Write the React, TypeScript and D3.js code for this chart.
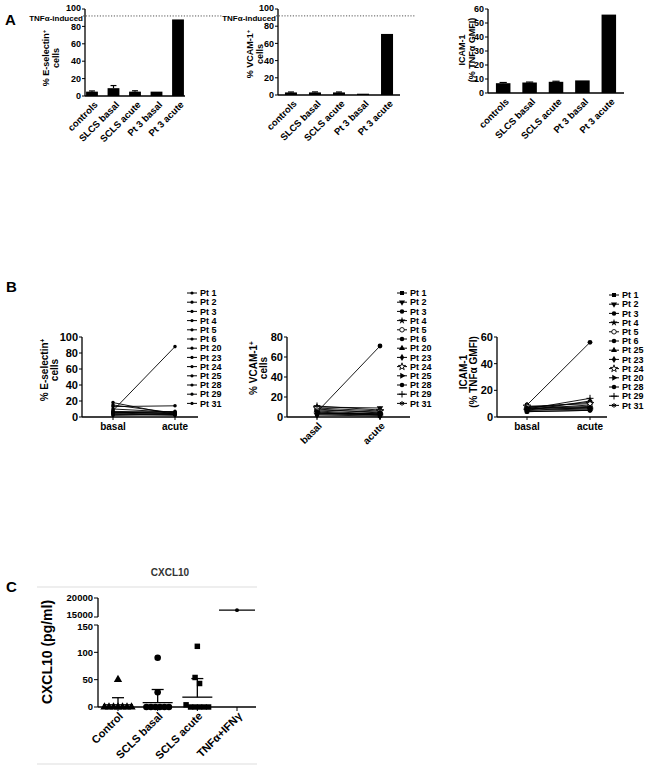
import React from "react";
import * as d3 from "d3";

const FONT = "Arial, 'Liberation Sans', Helvetica, sans-serif";

// ---- panel A: bars ----
const barCats = ["controls", "SLCS basal", "SCLS acute", "Pt 3 basal", "Pt 3 acute"];
const eselMeans = [5, 9, 5, 5, 88];
const eselErr = [0.8, 3, 1, 0, 0];
const vcamMeans = [3, 3, 3, 1.5, 71];
const vcamErr = [0.5, 0.6, 0.5, 0, 0];
const icamMeans = [7, 7.5, 8, 9, 56];
const icamErr = [0.5, 0.3, 0.4, 0, 0];
const tnfInduced = 92;

// ---- panel B: paired basal / acute ----
const pairCats = ["basal", "acute"];
const eselPts = ["Pt 1", "Pt 2", "Pt 3", "Pt 4", "Pt 5", "Pt 6", "Pt 20", "Pt 23", "Pt 24", "Pt 25", "Pt 28", "Pt 29", "Pt 31"];
const eselBasal = [5, 6, 8, 4, 18, 7, 3, 13, 5, 15, 6, 2, 10];
const eselAcute = [3, 5, 88, 2, 3, 6, 4, 14, 7, 5, 4, 3, 6];
const vcamPts = ["Pt 1", "Pt 2", "Pt 3", "Pt 4", "Pt 5", "Pt 6", "Pt 20", "Pt 23", "Pt 24", "Pt 25", "Pt 28", "Pt 29", "Pt 31"];
const vcamBasal = [6, 10, 5, 3, 8, 4, 7, 2, 9, 5, 3, 11, 4];
const vcamAcute = [3, 9, 71, 2, 4, 3, 5, 1, 6, 2, 4, 7, 2];
const icamPts = ["Pt 1", "Pt 2", "Pt 3", "Pt 4", "Pt 5", "Pt 6", "Pt 25", "Pt 23", "Pt 24", "Pt 20", "Pt 28", "Pt 29", "Pt 31"];
const icamBasal = [8, 6, 9, 5, 7, 4, 6, 5, 8, 7, 4, 6, 5];
const icamAcute = [7, 9, 56, 6, 11, 5, 8, 12, 10, 6, 5, 14, 7];

// ---- panel C: CXCL10 ----
const cxCats = ["Control", "SCLS basal", "SCLS acute", "TNFα+IFNγ"];
const cxControl = [50, 0, 0, 0, 0, 0, 0, 0];
const cxBasal = [90, 27, 0, 0, 0, 0, 0, 0];
const cxAcute = [111, 54, 43, 4, 0, 0, 0, 0, 0];
const cxTnf = [16800];
const cxMeans = [4, 8, 18, 16800];
const cxSdTop = [17, 32, 52, null];

const symNames = ["square", "triangleDown", "circle", "star", "circleOpen", "circle", "triangle",
  "diamond", "starOpen", "triangleRight", "circle", "plus", "asterisk"];

function Marker({ kind, x, y, size }: any) {
  const map: any = {
    square: d3.symbolSquare, circle: d3.symbolCircle, circleOpen: d3.symbolCircle,
    triangle: d3.symbolTriangle, triangleDown: d3.symbolTriangle, triangleRight: d3.symbolTriangle,
    star: d3.symbolStar, starOpen: d3.symbolStar, diamond: d3.symbolDiamond,
    plus: d3.symbolPlus, asterisk: d3.symbolAsterisk,
  };
  const d = d3.symbol().type(map[kind] || d3.symbolCircle).size(size)();
  const rot = kind === "triangleDown" ? 180 : kind === "triangleRight" ? 90 : 0;
  const open = kind === "circleOpen" || kind === "starOpen";
  const stroke = kind === "plus" || kind === "asterisk";
  return (
    <path d={d || ""} transform={`translate(${x},${y}) rotate(${rot})`}
      fill={open || stroke ? "white" : "black"} stroke="black" strokeWidth={stroke ? 1 : open ? 0.9 : 0} />
  );
}

function YTitle({ x, y, lines, size, gap }: any) {
  return (
    <g fontWeight="bold" fontSize={size}>
      {lines.map((l: any, i: number) => (
        <text key={i} transform={`translate(${x + i * gap},${y}) rotate(-90)`} textAnchor="middle">
          {l[0]}
          {l[1] ? <tspan dy={-size * 0.35} fontSize={size * 0.65}>{l[1]}</tspan> : null}
        </text>
      ))}
    </g>
  );
}

function BarChart({ ax, xEnd, yTop, yBot, max, tickStep, means, errs, pi, po, title, titleX, titleY, tnf }: any) {
  const x = d3.scaleBand().domain(barCats).range([ax, xEnd]).paddingInner(pi).paddingOuter(po);
  const y = d3.scaleLinear().domain([0, max]).range([yBot, yTop]);
  const ticks = d3.range(0, max + 0.1, tickStep);
  const bw = x.bandwidth();
  return (
    <g>
      {tnf && (
        <g>
          <line x1={ax - 2} x2={ax + 138} y1={y(tnfInduced)} y2={y(tnfInduced)} stroke="#555" strokeWidth={1} strokeDasharray="1.2,1.6" />
          <text x={ax - 2} y={y(tnfInduced) + 2} dy="0.35em" textAnchor="end" fontSize={8} fontWeight="bold">TNFα-induced</text>
        </g>
      )}
      {barCats.map((c, i) => (
        <g key={c}>
          <rect x={x(c)} y={y(means[i])} width={bw} height={yBot - y(means[i])} fill="black" />
          {errs[i] > 0 && (
            <g stroke="black" strokeWidth={1.2}>
              <line x1={x(c)! + bw / 2} x2={x(c)! + bw / 2} y1={y(means[i])} y2={y(means[i] + errs[i])} />
              <line x1={x(c)! + bw * 0.25} x2={x(c)! + bw * 0.75} y1={y(means[i] + errs[i])} y2={y(means[i] + errs[i])} />
            </g>
          )}
          <text transform={`translate(${x(c)! + bw / 2 + 4},${yBot + 7}) rotate(-45)`} textAnchor="end"
            fontSize={9.5} fontWeight="bold" dy="0.35em">{c}</text>
        </g>
      ))}
      <line x1={ax} x2={ax} y1={yTop} y2={yBot} stroke="black" strokeWidth={1.3} />
      <line x1={ax} x2={xEnd} y1={yBot} y2={yBot} stroke="black" strokeWidth={1.3} />
      {ticks.map(t => (
        <g key={t}>
          <line x1={ax - 3} x2={ax} y1={y(t)} y2={y(t)} stroke="black" strokeWidth={1} />
          <text x={ax - 4} y={y(t) - (tnf && t === max ? 1 : 0)} dy="0.35em" textAnchor="end" fontSize={9} fontWeight="bold">{t}</text>
        </g>
      ))}
      <YTitle x={titleX} y={titleY} lines={title} size={9} gap={9.5} />
    </g>
  );
}

function PairChart({ ax, xEnd, yTop, yBot, max, tickStep, xb, xa, names, basal, acute, small, rotate, lx, ly0, title, titleX, titleY }: any) {
  const x = d3.scalePoint().domain(pairCats).range([xb, xa]);
  const y = d3.scaleLinear().domain([0, max]).range([yBot, yTop]);
  const ticks = d3.range(0, max + 0.1, tickStep);
  const line = d3.line<[string, number]>().x(d => x(d[0])!).y(d => y(d[1]));
  const ms = small ? 10 : 18;
  return (
    <g>
      {names.map((n: string, i: number) => (
        <path key={n} d={line([["basal", basal[i]], ["acute", acute[i]]]) || ""} stroke="black" strokeWidth={0.9} fill="none" />
      ))}
      {names.map((n: string, i: number) => (
        <g key={n}>
          <Marker kind={small ? "circle" : symNames[i]} x={x("basal")} y={y(basal[i])} size={ms} />
          <Marker kind={small ? "circle" : symNames[i]} x={x("acute")} y={y(acute[i])} size={ms} />
        </g>
      ))}
      <line x1={ax} x2={ax} y1={yTop} y2={yBot} stroke="black" strokeWidth={1.3} />
      <line x1={ax} x2={xEnd} y1={yBot} y2={yBot} stroke="black" strokeWidth={1.3} />
      {ticks.map(t => (
        <g key={t}>
          <line x1={ax - 3} x2={ax} y1={y(t)} y2={y(t)} stroke="black" strokeWidth={1} />
          <text x={ax - 4} y={y(t)} dy="0.35em" textAnchor="end" fontSize={11} fontWeight="bold">{t}</text>
        </g>
      ))}
      {pairCats.map(c => (
        <g key={c}>
          <line x1={x(c)} x2={x(c)} y1={yBot} y2={yBot + 3} stroke="black" strokeWidth={1} />
          {rotate ? (
            <text transform={`translate(${x(c)! + 3},${yBot + 7}) rotate(-45)`} textAnchor="end" dy="0.35em"
              fontSize={10} fontWeight="bold">{c}</text>
          ) : (
            <text x={x(c)} y={yBot + 13} textAnchor="middle" fontSize={10} fontWeight="bold">{c}</text>
          )}
        </g>
      ))}
      {names.map((n: string, i: number) => (
        <g key={n} transform={`translate(${lx},${ly0 + i * 9.2})`}>
          <line x1={-5} x2={5} y1={0} y2={0} stroke="black" strokeWidth={1} />
          <Marker kind={small ? "circle" : symNames[i]} x={0} y={0} size={small ? 8 : 16} />
          <text x={8} dy="0.35em" fontSize={9} fontWeight="bold">{n}</text>
        </g>
      ))}
      <YTitle x={titleX} y={titleY} lines={title} size={10} gap={10} />
    </g>
  );
}

function swarm(vals: number[], yFn: (v: number) => number, cx: number, step: number) {
  const pts = vals.map(v => ({ v, y: yFn(v) })).sort((a, b) => a.y - b.y);
  const groups: any[] = [];
  for (const p of pts) {
    const g = groups[groups.length - 1];
    if (g && p.y - g[g.length - 1].y < 6.5) g.push(p);
    else groups.push([p]);
  }
  return groups.flatMap((g: any[]) => g.map((p, i) => ({ ...p, x: cx + (i - (g.length - 1) / 2) * step })));
}

function CxclChart() {
  const ax = 98, xEnd = 256;
  const lower = d3.scaleLinear().domain([0, 150]).range([707, 625]);
  const upper = d3.scaleLinear().domain([15000, 20000]).range([617, 598]);
  const yv = (v: number) => (v >= 15000 ? upper(v) : lower(v));
  const x = d3.scalePoint().domain(cxCats).range([118, 237]);
  const groups = [cxControl, cxBasal, cxAcute, cxTnf];
  const kinds = ["triangle", "circle", "square", "circle"];
  const sizes = [30, 34, 30, 12];
  return (
    <g>
      <line x1={37} x2={257} y1={587} y2={587} stroke="#ddd" strokeWidth={1} />
      <line x1={37} x2={257} y1={764} y2={764} stroke="#ddd" strokeWidth={1} />
      <text x={170} y={576} textAnchor="middle" fontSize={10} fontWeight="bold" fill="#333">CXCL10</text>
      {groups.map((g, gi) =>
        swarm(g, yv, x(cxCats[gi])!, 4.5).map((p, i) => (
          <Marker key={gi + "-" + i} kind={kinds[gi]} x={p.x} y={p.y} size={sizes[gi]} />
        ))
      )}
      {cxCats.map((c, i) => {
        const cx = x(c)!;
        const hw = i === 3 ? 18 : 15;
        const sd = cxSdTop[i];
        return (
          <g key={c} stroke="black" strokeWidth={1.3}>
            <line x1={cx - hw} x2={cx + hw} y1={yv(cxMeans[i])} y2={yv(cxMeans[i])} />
            {sd != null && (
              <g>
                <line x1={cx} x2={cx} y1={yv(cxMeans[i])} y2={yv(sd)} />
                <line x1={cx - 6} x2={cx + 6} y1={yv(sd)} y2={yv(sd)} />
              </g>
            )}
          </g>
        );
      })}
      <line x1={ax} x2={ax} y1={625} y2={707} stroke="black" strokeWidth={1.3} />
      <line x1={ax} x2={ax} y1={598} y2={617} stroke="black" strokeWidth={1.3} />
      <line x1={ax} x2={xEnd} y1={707} y2={707} stroke="black" strokeWidth={1.3} />
      {[0, 50, 100, 150].map(t => (
        <g key={t}>
          <line x1={ax - 4} x2={ax} y1={lower(t)} y2={lower(t)} stroke="black" strokeWidth={1} />
          <text x={ax - 5} y={lower(t) + (t === 150 ? 2 : 0)} dy="0.35em" textAnchor="end" fontSize={9.5} fontWeight="bold">{t}</text>
        </g>
      ))}
      {[15000, 20000].map(t => (
        <g key={t}>
          <line x1={ax - 4} x2={ax} y1={upper(t)} y2={upper(t)} stroke="black" strokeWidth={1} />
          <text x={ax - 5} y={upper(t) - (t === 15000 ? 2 : 0)} dy="0.35em" textAnchor="end" fontSize={9.5} fontWeight="bold">{t}</text>
        </g>
      ))}
      {cxCats.map(c => (
        <g key={c}>
          <line x1={x(c)} x2={x(c)} y1={707} y2={711} stroke="black" strokeWidth={1} />
          <text transform={`translate(${x(c)! + 3},${714}) rotate(-45)`} textAnchor="end" dy="0.35em"
            fontSize={11} fontWeight="bold">{c}</text>
        </g>
      ))}
      <text transform="translate(52,652) rotate(-90)" textAnchor="middle" fontSize={14} fontWeight="bold">CXCL10 (pg/ml)</text>
    </g>
  );
}

export default function App() {
  return (
    <svg width={645} height={770} style={{ position: "absolute", left: 0, top: 0 }} fontFamily={FONT}>
      <rect width={645} height={770} fill="white" />
      <text x={5} y={25} fontSize={15} fontWeight="bold">A</text>
      <BarChart ax={85} xEnd={185} yTop={9} yBot={96} max={100} tickStep={20} means={eselMeans} errs={eselErr}
        pi={0.45} po={0.05} title={[["% E-selectin", "+"], ["cells"]]} titleX={49} titleY={58} tnf />
      <BarChart ax={278} xEnd={400} yTop={9} yBot={95} max={100} tickStep={20} means={vcamMeans} errs={vcamErr}
        pi={0.5} po={0.29} title={[["% VCAM-1", "+"], ["cells"]]} titleX={253} titleY={54} tnf />
      <BarChart ax={488} xEnd={624} yTop={9} yBot={93} max={60} tickStep={10} means={icamMeans} errs={icamErr}
        pi={0.45} po={0.3} title={[["ICAM-1"], ["(% TNFα GMFI)"]]} titleX={465} titleY={50} tnf={false} />

      <text x={6} y={292} fontSize={15} fontWeight="bold">B</text>
      <PairChart ax={82} xEnd={198} yTop={337} yBot={417} max={100} tickStep={20} xb={113} xa={175}
        names={eselPts} basal={eselBasal} acute={eselAcute} small rotate={false} lx={192} ly0={293}
        title={[["% E-selectin", "+"], ["cells"]]} titleX={48} titleY={370} />
      <PairChart ax={287} xEnd={410} yTop={337} yBot={417} max={80} tickStep={20} xb={317} xa={380}
        names={vcamPts} basal={vcamBasal} acute={vcamAcute} small={false} rotate lx={402} ly0={293}
        title={[["% VCAM-1", "+"], ["cells"]]} titleX={257} titleY={368} />
      <PairChart ax={497} xEnd={607} yTop={337} yBot={417} max={60} tickStep={20} xb={527} xa={590}
        names={icamPts} basal={icamBasal} acute={icamAcute} small={false} rotate={false} lx={614} ly0={295}
        title={[["ICAM-1"], ["(% TNFα GMFI)"]]} titleX={467} titleY={372} />

      <text x={6} y={592} fontSize={15} fontWeight="bold">C</text>
      <CxclChart />
    </svg>
  );
}
